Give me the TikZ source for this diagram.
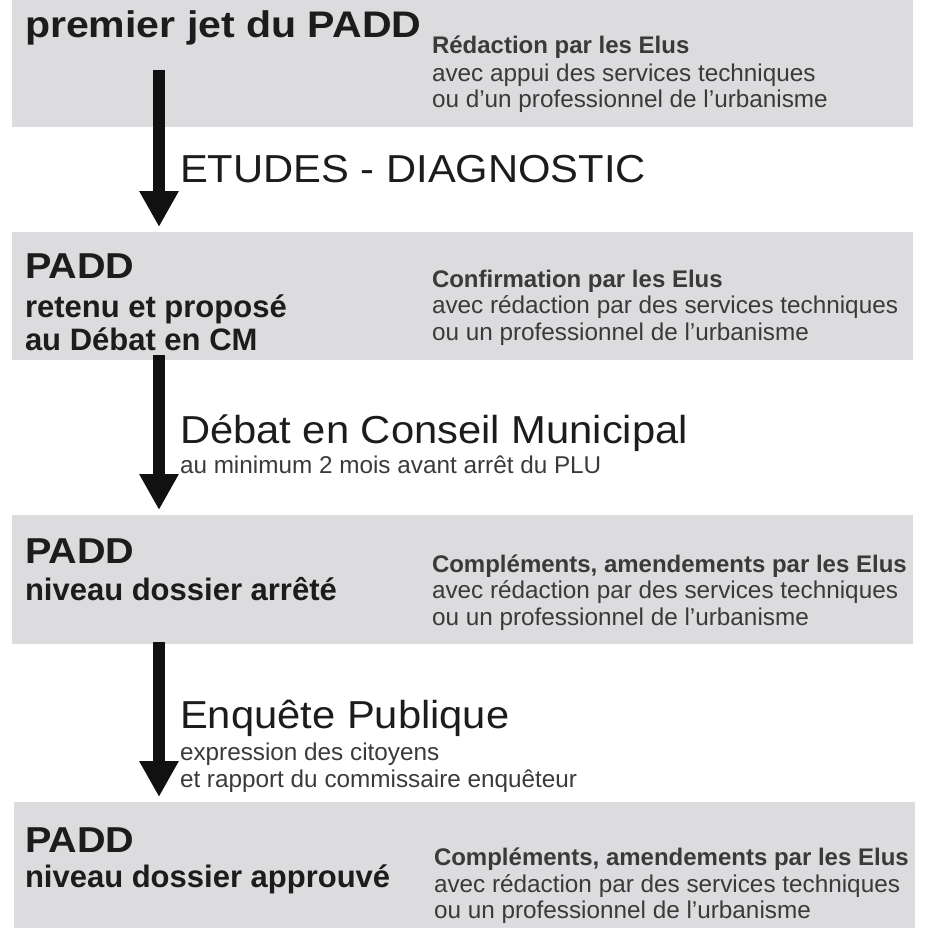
\documentclass[tikz,border=0pt]{standalone}
\usepackage{fontspec}
\setmainfont{Liberation Sans}
\newfontfamily\bigreg[FakeStretch=1.07]{Liberation Sans}
\newfontfamily\bigbold[FakeStretch=1.1]{Liberation Sans Bold}
\newfontfamily\topbold[FakeStretch=1.11]{Liberation Sans Bold}
\newfontfamily\smbold{Liberation Sans Bold}
\usetikzlibrary{arrows.meta}
\definecolor{boxgray}{HTML}{DCDCDE}
\definecolor{textdark}{HTML}{1C1C1C}
\definecolor{textmid}{HTML}{3A3A3A}
\definecolor{arrowblack}{HTML}{111111}
\tikzset{
  box/.style={fill=boxgray, draw=none, inner sep=0pt, anchor=north west, minimum width=901pt},
  txt/.style={anchor=base west, inner sep=0pt, outer sep=0pt},
  toptitle/.style={txt, text=textdark, font=\topbold\fontsize{37}{40}\selectfont},
  padd/.style={txt, text=textdark, font=\bigbold\fontsize{36}{40}\selectfont},
  subtitle/.style={txt, text=textdark, font=\smbold\fontsize{31}{34}\selectfont},
  stage/.style={txt, text=textdark, font=\bigreg\fontsize{39}{42}\selectfont},
  lead/.style={txt, text=textmid, font=\smbold\fontsize{24}{27}\selectfont},
  note/.style={txt, text=textmid, font=\fontsize{24.3}{27}\selectfont},
  flow/.style={draw=arrowblack, line width=12pt, -{Triangle[width=37pt,length=36pt]}},
}
\begin{document}
\begin{tikzpicture}[x=1pt,y=-1pt]
\useasboundingbox (0,0) rectangle (926,938);
% boxes
\node[box, minimum height=129pt] (b1) at (12,-2) {};
\node[box, minimum height=128pt] (b2) at (12,232) {};
\node[box, minimum height=129pt] (b3) at (12,515) {};
\node[box, minimum height=126pt] (b4) at (14,802) {};
% box 1
\node[toptitle] (t1) at (25,37) {premier jet du PADD};
\node[lead] (r1a) at (432,53) {Rédaction par les Elus};
\node[note] (r1b) at (432,81) {avec appui des services techniques};
\node[note] (r1c) at (432,107) {ou d’un professionnel de l’urbanisme};
% box 2
\node[padd] (p2) at (25,278) {PADD};
\node[subtitle] (p2a) at (25,317) {retenu et proposé};
\node[subtitle] (p2b) at (25,350) {au Débat en CM};
\node[lead] (r2a) at (432,287) {Confirmation par les Elus};
\node[note] (r2b) at (432,313) {avec rédaction par des services techniques};
\node[note] (r2c) at (432,340) {ou un professionnel de l’urbanisme};
% box 3
\node[padd] (p3) at (25,563) {PADD};
\node[subtitle] (p3a) at (25,600) {niveau dossier arrêté};
\node[lead] (r3a) at (432,572) {Compléments, amendements par les Elus};
\node[note] (r3b) at (432,598) {avec rédaction par des services techniques};
\node[note] (r3c) at (432,625) {ou un professionnel de l’urbanisme};
% box 4
\node[padd] (p4) at (25,852) {PADD};
\node[subtitle] (p4a) at (25,887) {niveau dossier approuvé};
\node[lead] (r4a) at (434,865) {Compléments, amendements par les Elus};
\node[note] (r4b) at (434,892) {avec rédaction par des services techniques};
\node[note] (r4c) at (434,918) {ou un professionnel de l’urbanisme};
% stage labels
\node[stage] (s1) at (180,182) {ETUDES - DIAGNOSTIC};
\node[stage] (s2) at (180,443) {Débat en Conseil Municipal};
\node[note] (s2a) at (180,473) {au minimum 2 mois avant arrêt du PLU};
\node[stage] (s3) at (180,728) {Enquête Publique};
\node[note] (s3a) at (180,760) {expression des citoyens};
\node[note] (s3b) at (180,787) {et rapport du commissaire enquêteur};
% arrows
\coordinate (a1) at (159,70);
\draw[flow] (a1) -- ([yshift=5pt]b2.north -| a1);
\draw[flow] ([yshift=5pt]b2.south -| a1) -- ([yshift=5pt]b3.north -| a1);
\draw[flow] ([yshift=2pt]b3.south -| a1) -- ([yshift=5pt]b4.north -| a1);
\end{tikzpicture}
\end{document}
